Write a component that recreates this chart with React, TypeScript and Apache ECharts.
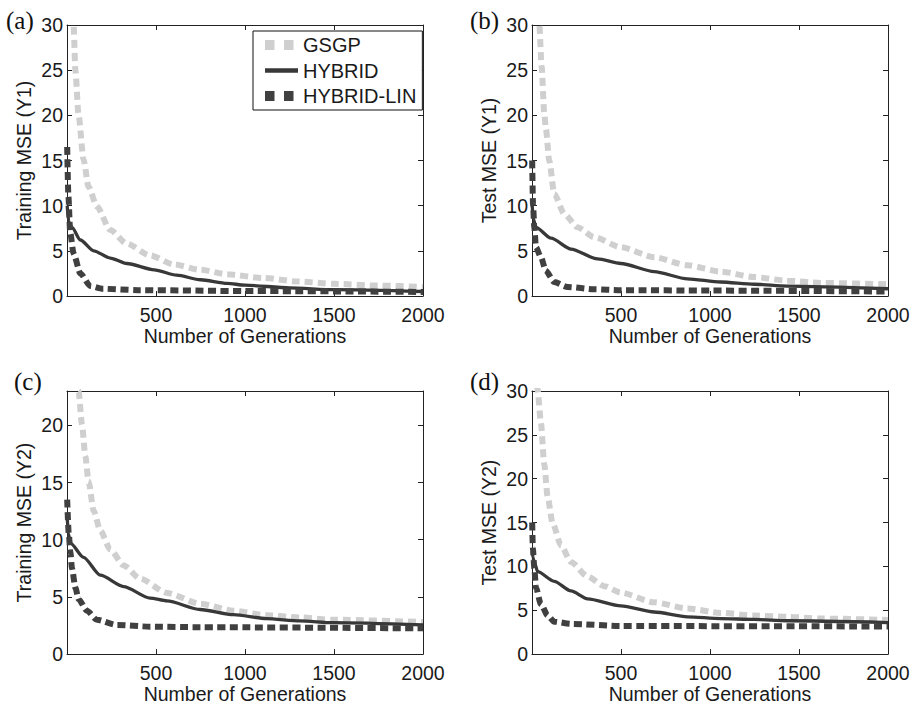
import React, { useEffect, useRef } from "react";
import * as echarts from "echarts";

// ---- data (generation, MSE) ----
const X_TICKS = [500, 1000, 1500, 2000];
const SERIES_NAMES = ["GSGP", "HYBRID", "HYBRID-LIN"];

const A_GSGP = [[1, 60], [20, 40], [37, 30], [47, 25], [65, 20], [93, 15.1], [121, 12.1], [168, 9.9], [243, 7.3], [336, 5.8], [466, 4.5], [600, 3.5], [750, 2.9], [900, 2.4], [1100, 2.0], [1300, 1.6], [1500, 1.35], [1750, 1.15], [2000, 1.0]];
const A_HYB = [[1, 10], [10, 8.2], [28, 7.6], [75, 6.2], [150, 5.0], [243, 4.2], [336, 3.6], [490, 2.9], [616, 2.3], [750, 1.8], [900, 1.4], [1000, 1.2], [1250, 0.9], [1500, 0.7], [2000, 0.5]];
const A_LIN = [[1, 16.5], [8, 11], [18, 7], [37, 4.7], [75, 2.5], [131, 1.1], [200, 0.8], [400, 0.65], [1000, 0.55], [2000, 0.45]];

const B_GSGP = [[1, 50], [30, 35], [41, 30], [54, 25.4], [69, 20.2], [78, 18.5], [97, 15], [125, 11.3], [181, 9.1], [256, 7.6], [350, 6.5], [499, 5.4], [686, 4.3], [873, 3.4], [1060, 2.7], [1247, 2.1], [1434, 1.7], [1620, 1.45], [2000, 1.3]];
const B_HYB = [[1, 10], [8, 8.5], [22, 7.6], [107, 6.4], [219, 5.2], [368, 4.1], [499, 3.6], [686, 2.7], [873, 1.9], [1060, 1.55], [1247, 1.3], [1434, 1.1], [2000, 0.8]];
const B_LIN = [[1, 15], [6, 10], [13, 7.6], [22, 5.4], [50, 4.3], [78, 2.8], [125, 1.55], [200, 1.0], [350, 0.75], [500, 0.65], [1000, 0.6], [2000, 0.5]];

const C_GSGP = [[1, 40], [50, 26], [65, 23], [84, 20.1], [103, 17.3], [121, 15.1], [150, 12.5], [187, 10.8], [243, 9.15], [318, 7.75], [411, 6.6], [561, 5.35], [748, 4.4], [935, 3.8], [1121, 3.4], [1308, 3.2], [1495, 3.0], [2000, 2.8]];
const C_HYB = [[1, 12], [8, 10.5], [19, 9.7], [93, 8.45], [187, 6.9], [318, 5.9], [467, 4.9], [561, 4.65], [748, 3.9], [935, 3.45], [1121, 3.1], [1308, 2.9], [1495, 2.75], [2000, 2.55]];
const C_LIN = [[1, 13.5], [10, 10.5], [19, 8.9], [28, 7.5], [47, 5.8], [65, 4.8], [112, 3.8], [168, 3.0], [280, 2.55], [467, 2.4], [748, 2.35], [2000, 2.25]];

const D_GSGP = [[1, 50], [25, 34], [32, 30], [50, 26.4], [69, 21.6], [88, 17.9], [116, 14.9], [163, 12.4], [219, 10.5], [312, 8.85], [406, 7.75], [499, 7.0], [686, 5.9], [873, 5.2], [1060, 4.7], [1247, 4.4], [1434, 4.25], [1620, 4.05], [2000, 3.9]];
const D_HYB = [[1, 12], [5, 11], [13, 10.5], [32, 9.4], [125, 8.3], [219, 7.2], [312, 6.3], [499, 5.5], [686, 4.8], [873, 4.25], [1060, 4.05], [1247, 3.95], [1434, 3.8], [2000, 3.6]];
const D_LIN = [[1, 15], [5, 12], [13, 9.8], [22, 7.6], [50, 5.7], [88, 4.4], [125, 3.7], [219, 3.45], [500, 3.2], [2000, 3.15]];

const PANEL_LABELS = ["(a)", "(b)", "(c)", "(d)"];
const Y_NAMES = ["Training MSE (Y1)", "Test MSE (Y1)", "Training MSE (Y2)", "Test MSE (Y2)"];
const Y_MAX = [30, 30, 23, 30];
const PANEL_DATA = [
  [A_GSGP, A_HYB, A_LIN],
  [B_GSGP, B_HYB, B_LIN],
  [C_GSGP, C_HYB, C_LIN],
  [D_GSGP, D_HYB, D_LIN],
];

// ---- layout / style ----
const LAYOUT = [
  { left: 67, top: 25, lx: 6, ly: 22 },
  { left: 532, top: 25, lx: 470, ly: 22 },
  { left: 67, top: 391, lx: 14, ly: 383 },
  { left: 532, top: 391, lx: 470, ly: 383 },
];
const GRID_W = 356;
const GRID_H = 271;
const FONT = '"Liberation Sans", Arial, Helvetica, sans-serif';
const FS = 19.5;
const AXIS_COLOR = "#222";
const TEXT_COLOR = "#1a1a1a";
const LINE_STYLES = [
  { color: "#cfcfcf", width: 6, type: [8, 5] as number[] | string, legendW: 10, legendType: [9.5, 9.5] as number[] | string },
  { color: "#383838", width: 3.3, type: "solid" as number[] | string, legendW: 4.5, legendType: "solid" as number[] | string },
  { color: "#404040", width: 6, type: [8, 4.5] as number[] | string, legendW: 10, legendType: [9.5, 9.5] as number[] | string },
];

function buildOption() {
  const grid: any[] = [];
  const xAxis: any[] = [];
  const yAxis: any[] = [];
  const series: any[] = [];
  const graphic: any[] = [];

  LAYOUT.forEach((L, i) => {
    grid.push({ left: L.left, top: L.top, width: GRID_W, height: GRID_H, containLabel: false });
    const axisLine = { show: true, onZero: false, lineStyle: { color: AXIS_COLOR, width: 1 } };
    const axisTick = { show: true, inside: true, length: 5, lineStyle: { color: AXIS_COLOR, width: 1 } };
    const labelStyle = { fontFamily: FONT, fontSize: FS, color: TEXT_COLOR };
    xAxis.push({
      type: "value", gridIndex: i, position: "bottom", min: 0, max: 2000, interval: 500,
      axisLine, axisTick, splitLine: { show: false },
      axisLabel: { ...labelStyle, margin: 9, showMinLabel: false,
        formatter: (v: number) => (X_TICKS.indexOf(v) >= 0 ? String(v) : "") },
      name: "Number of Generations", nameLocation: "middle", nameGap: 20,
      nameTextStyle: { fontFamily: FONT, fontSize: FS, color: TEXT_COLOR },
    });
    xAxis.push({
      type: "value", gridIndex: i, position: "top", min: 0, max: 2000, interval: 500,
      axisLine, axisTick, splitLine: { show: false }, axisLabel: { show: false },
    });
    yAxis.push({
      type: "value", gridIndex: i, position: "left", min: 0, max: Y_MAX[i], interval: 5,
      axisLine, axisTick, splitLine: { show: false },
      axisLabel: { ...labelStyle, margin: 4, showMaxLabel: Y_MAX[i] % 5 === 0,
        formatter: (v: number) => (v % 5 === 0 ? String(v) : "") },
      name: Y_NAMES[i], nameLocation: "middle", nameGap: 33, nameRotate: 90,
      nameTextStyle: { fontFamily: FONT, fontSize: FS, color: TEXT_COLOR },
    });
    yAxis.push({
      type: "value", gridIndex: i, position: "right", min: 0, max: Y_MAX[i], interval: 5,
      axisLine, axisTick, splitLine: { show: false }, axisLabel: { show: false },
    });
    PANEL_DATA[i].forEach((data, s) => {
      const ls = LINE_STYLES[s];
      series.push({
        type: "line", name: SERIES_NAMES[s], xAxisIndex: 2 * i, yAxisIndex: 2 * i,
        data, symbol: "none", showSymbol: false, smooth: 0.25, smoothMonotone: "x",
        clip: true, z: 2 + s,
        lineStyle: { color: ls.color, width: ls.width, type: ls.type, cap: "butt" },
        itemStyle: { color: ls.color },
      });
    });
    graphic.push({
      type: "text", left: L.lx, top: L.ly - 14,
      style: { text: PANEL_LABELS[i], font: '25px "Liberation Serif", "Times New Roman", serif', fill: "#111" },
    });
  });

  return {
    animation: false,
    backgroundColor: "#ffffff",
    grid, xAxis, yAxis, series, graphic,
    legend: {
      show: true,
      data: SERIES_NAMES.map((name, s) => ({
        name,
        lineStyle: { color: LINE_STYLES[s].color, width: LINE_STYLES[s].legendW, type: LINE_STYLES[s].legendType, cap: "butt" },
      })),
      orient: "vertical",
      left: 253, top: 31,
      width: 165,
      padding: [4, 6, 4, 7],
      itemGap: 5.5,
      itemWidth: 33, itemHeight: 19,
      backgroundColor: "#ffffff",
      borderColor: "#111",
      borderWidth: 1,
      borderRadius: 0,
      selectedMode: false,
      itemStyle: { color: "rgba(0,0,0,0)", borderWidth: 0, opacity: 0 },
      textStyle: { fontFamily: FONT, fontSize: 20, color: TEXT_COLOR, padding: [0, 0, 0, 0] },
    },
  };
}

export default function App() {
  const ref = useRef<HTMLDivElement>(null);
  useEffect(() => {
    if (!ref.current) return;
    const chart = echarts.init(ref.current, null, { renderer: "svg" });
    chart.setOption(buildOption() as any);
    return () => chart.dispose();
  }, []);
  return (
    <div
      ref={ref}
      style={{ position: "absolute", left: 0, top: 0, width: 914, height: 705, background: "#fff" }}
    />
  );
}
